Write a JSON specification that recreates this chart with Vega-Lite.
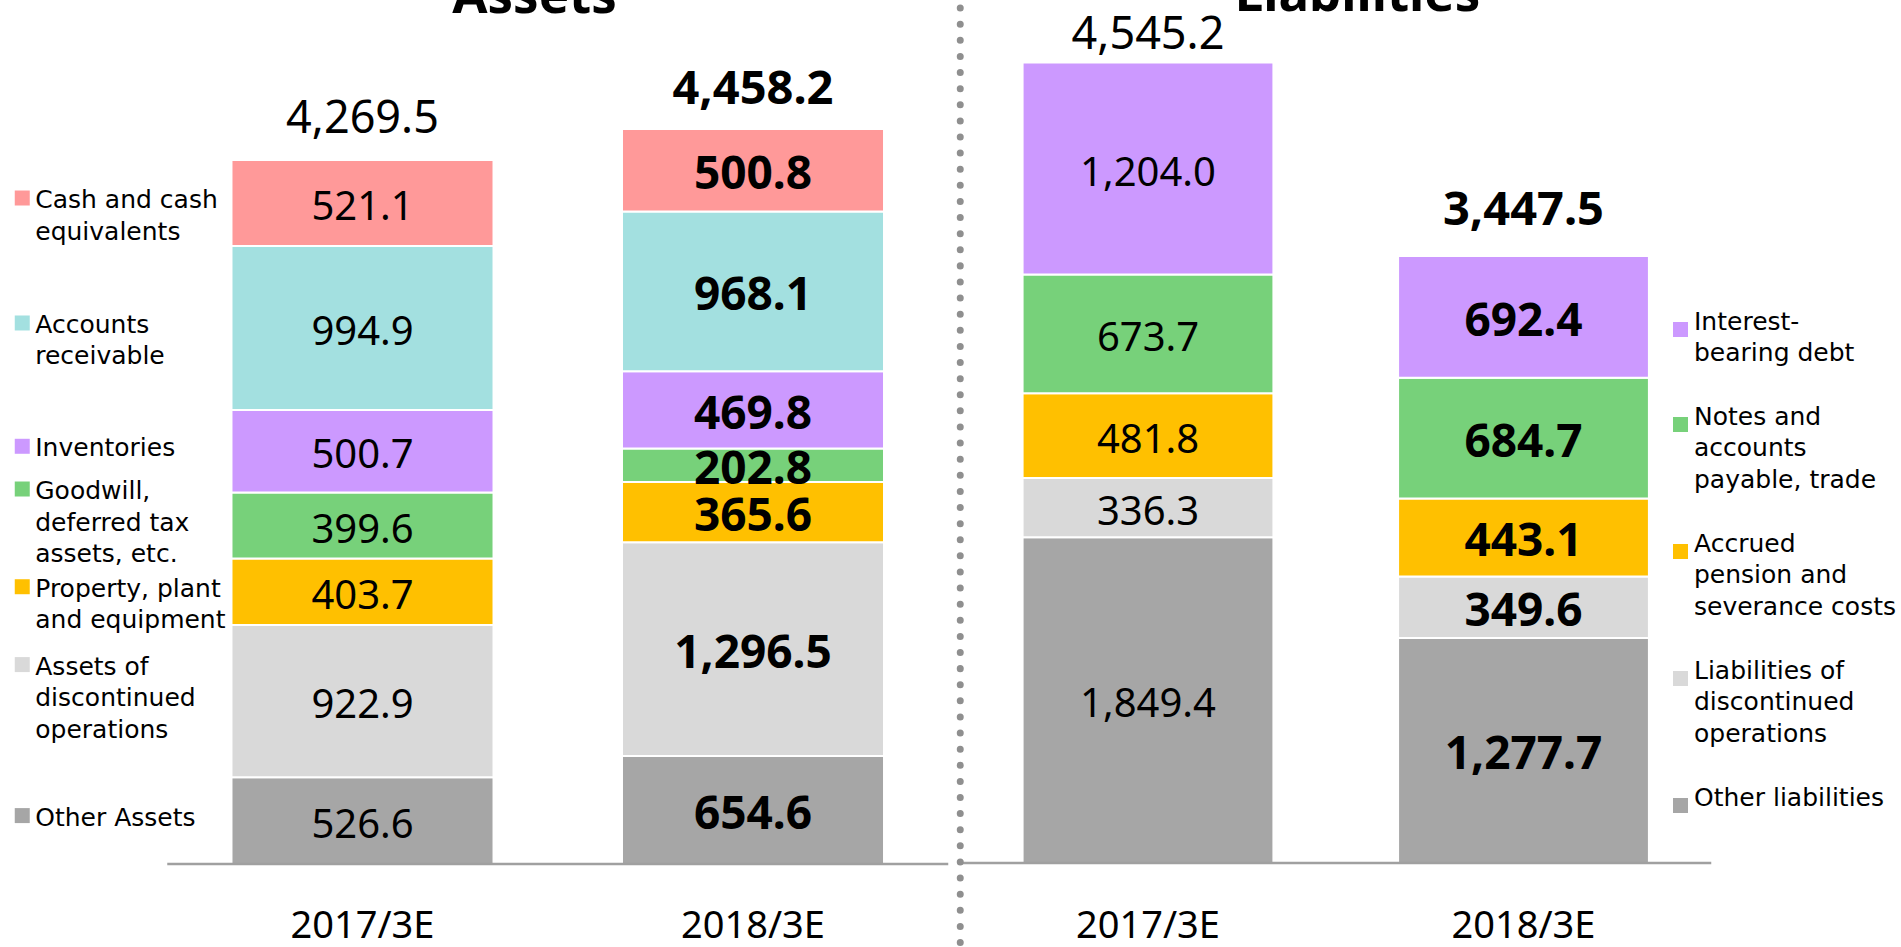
{
  "$schema": "https://vega.github.io/schema/vega-lite/v6.json",
  "width": 1901,
  "height": 947,
  "autosize": {"type": "none"},
  "padding": 0,
  "background": "white",
  "config": {"view": {"stroke": null}, "axis": {"grid": false}, "style": {"guide-label": {"lineHeight": 31.5}}},
  "datasets": {
    "assets": [
      {"year": "2017/3E", "category": "Other Assets", "value": 526.6, "lines": ["Other Assets"]},
      {"year": "2017/3E", "category": "Assets of discontinued operations", "value": 922.9, "lines": ["Assets of", "discontinued", "operations"]},
      {"year": "2017/3E", "category": "Property, plant and equipment", "value": 403.7, "lines": ["Property, plant", "and equipment"]},
      {"year": "2017/3E", "category": "Goodwill, deferred tax assets, etc.", "value": 399.6, "lines": ["Goodwill,", "deferred tax", "assets, etc."]},
      {"year": "2017/3E", "category": "Inventories", "value": 500.7, "lines": ["Inventories"]},
      {"year": "2017/3E", "category": "Accounts receivable", "value": 994.9, "lines": ["Accounts", "receivable"]},
      {"year": "2017/3E", "category": "Cash and cash equivalents", "value": 521.1, "lines": ["Cash and cash", "equivalents"]},
      {"year": "2018/3E", "category": "Other Assets", "value": 654.6, "lines": ["Other Assets"]},
      {"year": "2018/3E", "category": "Assets of discontinued operations", "value": 1296.5, "lines": ["Assets of", "discontinued", "operations"]},
      {"year": "2018/3E", "category": "Property, plant and equipment", "value": 365.6, "lines": ["Property, plant", "and equipment"]},
      {"year": "2018/3E", "category": "Goodwill, deferred tax assets, etc.", "value": 202.8, "lines": ["Goodwill,", "deferred tax", "assets, etc."]},
      {"year": "2018/3E", "category": "Inventories", "value": 469.8, "lines": ["Inventories"]},
      {"year": "2018/3E", "category": "Accounts receivable", "value": 968.1, "lines": ["Accounts", "receivable"]},
      {"year": "2018/3E", "category": "Cash and cash equivalents", "value": 500.8, "lines": ["Cash and cash", "equivalents"]}
    ],
    "liab": [
      {"year": "2017/3E", "category": "Other liabilities", "value": 1849.4},
      {"year": "2017/3E", "category": "Liabilities of discontinued operations", "value": 336.3},
      {"year": "2017/3E", "category": "Accrued pension and severance costs", "value": 481.8},
      {"year": "2017/3E", "category": "Notes and accounts payable, trade", "value": 673.7},
      {"year": "2017/3E", "category": "Interest-bearing debt", "value": 1204.0},
      {"year": "2018/3E", "category": "Other liabilities", "value": 1277.7},
      {"year": "2018/3E", "category": "Liabilities of discontinued operations", "value": 349.6},
      {"year": "2018/3E", "category": "Accrued pension and severance costs", "value": 443.1},
      {"year": "2018/3E", "category": "Notes and accounts payable, trade", "value": 684.7},
      {"year": "2018/3E", "category": "Interest-bearing debt", "value": 692.4}
    ]
  },
  "layer": [
    {
      "layer": [
        {
          "data": {"name": "assets"},
          "transform": [{"window": [{"op": "row_number", "as": "rank"}]}],
          "mark": {"type": "bar", "stroke": "white", "strokeWidth": 2, "width": {"band": 0.671}},
          "encoding": {
            "x": {"field": "year", "type": "nominal", "scale": {"type": "band", "domain": ["2017/3E", "2018/3E"], "range": [167.25, 948.25], "paddingInner": 0, "paddingOuter": 0},
              "axis": {"orient": "bottom", "offset": -83, "domain": false, "ticks": false, "tickSize": 0, "labelPadding": 43, "labelFont": "Noto Sans", "labelFontSize": 38, "labelColor": "#000000", "labelAngle": 0, "grid": false, "title": "Assets", "titleFont": "Noto Sans", "titleFontSize": 51, "titleFontWeight": "bold", "titleColor": "#000000", "titleX": 534, "titleY": -852, "titleBaseline": "alphabetic", "titleAlign": "center", "titleAngle": 0}},
            "y": {"field": "value", "type": "quantitative", "stack": "zero", "scale": {"domain": [-503.4, 5240.2], "nice": false, "zero": false}, "axis": null},
            "color": {"field": "category", "type": "nominal", "legend": null,
              "scale": {"domain": ["Cash and cash equivalents", "Accounts receivable", "Inventories", "Goodwill, deferred tax assets, etc.", "Property, plant and equipment", "Assets of discontinued operations", "Other Assets"],
                "range": ["#FF9999", "#A3E0E0", "#CC99FF", "#77D17A", "#FFC000", "#D9D9D9", "#A6A6A6"]}},
            "order": {"field": "rank", "type": "quantitative"}
          }
        },
        {
          "data": {"name": "assets"},
          "transform": [{"window": [{"op": "row_number", "as": "rank"}]}, {"filter": "datum.year == '2017/3E'"}],
          "mark": {"type": "text", "font": "Noto Sans", "fontSize": 40, "color": "#000000", "baseline": "alphabetic", "dy": 17},
          "encoding": {
            "x": {"field": "year", "type": "nominal", "scale": {"type": "band", "domain": ["2017/3E", "2018/3E"], "range": [167.25, 948.25], "paddingInner": 0, "paddingOuter": 0},
              "axis": {"orient": "bottom", "offset": -83, "domain": false, "ticks": false, "tickSize": 0, "labelPadding": 43, "labelFont": "Noto Sans", "labelFontSize": 38, "labelColor": "#000000", "labelAngle": 0, "grid": false, "title": "Assets", "titleFont": "Noto Sans", "titleFontSize": 51, "titleFontWeight": "bold", "titleColor": "#000000", "titleX": 534, "titleY": -852, "titleBaseline": "alphabetic", "titleAlign": "center", "titleAngle": 0}},
            "y": {"field": "value", "type": "quantitative", "stack": "zero", "bandPosition": 0.5, "scale": {"domain": [-503.4, 5240.2], "nice": false, "zero": false}, "axis": null},
            "detail": {"field": "category"},
            "order": {"field": "rank", "type": "quantitative"},
            "text": {"field": "value", "type": "quantitative", "format": ",.1f"}
          }
        },
        {
          "data": {"name": "assets"},
          "transform": [{"window": [{"op": "row_number", "as": "rank"}]}, {"filter": "datum.year == '2018/3E'"}],
          "mark": {"type": "text", "font": "Noto Sans", "fontSize": 46, "fontWeight": "bold", "color": "#000000", "baseline": "alphabetic", "dy": 19},
          "encoding": {
            "x": {"field": "year", "type": "nominal", "scale": {"type": "band", "domain": ["2017/3E", "2018/3E"], "range": [167.25, 948.25], "paddingInner": 0, "paddingOuter": 0},
              "axis": {"orient": "bottom", "offset": -83, "domain": false, "ticks": false, "tickSize": 0, "labelPadding": 43, "labelFont": "Noto Sans", "labelFontSize": 38, "labelColor": "#000000", "labelAngle": 0, "grid": false, "title": "Assets", "titleFont": "Noto Sans", "titleFontSize": 51, "titleFontWeight": "bold", "titleColor": "#000000", "titleX": 534, "titleY": -852, "titleBaseline": "alphabetic", "titleAlign": "center", "titleAngle": 0}},
            "y": {"field": "value", "type": "quantitative", "stack": "zero", "bandPosition": 0.5, "scale": {"domain": [-503.4, 5240.2], "nice": false, "zero": false}, "axis": null},
            "detail": {"field": "category"},
            "order": {"field": "rank", "type": "quantitative"},
            "text": {"field": "value", "type": "quantitative", "format": ",.1f"}
          }
        },
        {
          "data": {"name": "assets"},
          "transform": [{"filter": "datum.year == '2017/3E'"}],
          "mark": {"type": "text", "font": "Noto Sans", "fontSize": 45, "color": "#000000", "baseline": "alphabetic", "dy": -27},
          "encoding": {
            "x": {"field": "year", "type": "nominal", "scale": {"type": "band", "domain": ["2017/3E", "2018/3E"], "range": [167.25, 948.25], "paddingInner": 0, "paddingOuter": 0},
              "axis": {"orient": "bottom", "offset": -83, "domain": false, "ticks": false, "tickSize": 0, "labelPadding": 43, "labelFont": "Noto Sans", "labelFontSize": 38, "labelColor": "#000000", "labelAngle": 0, "grid": false, "title": "Assets", "titleFont": "Noto Sans", "titleFontSize": 51, "titleFontWeight": "bold", "titleColor": "#000000", "titleX": 534, "titleY": -852, "titleBaseline": "alphabetic", "titleAlign": "center", "titleAngle": 0}},
            "y": {"aggregate": "sum", "field": "value", "type": "quantitative", "scale": {"domain": [-503.4, 5240.2], "nice": false, "zero": false}, "axis": null},
            "text": {"aggregate": "sum", "field": "value", "type": "quantitative", "format": ",.1f"}
          }
        },
        {
          "data": {"name": "assets"},
          "transform": [{"filter": "datum.year == '2018/3E'"}],
          "mark": {"type": "text", "font": "Noto Sans", "fontSize": 47, "fontWeight": "bold", "color": "#000000", "baseline": "alphabetic", "dy": -25},
          "encoding": {
            "x": {"field": "year", "type": "nominal", "scale": {"type": "band", "domain": ["2017/3E", "2018/3E"], "range": [167.25, 948.25], "paddingInner": 0, "paddingOuter": 0},
              "axis": {"orient": "bottom", "offset": -83, "domain": false, "ticks": false, "tickSize": 0, "labelPadding": 43, "labelFont": "Noto Sans", "labelFontSize": 38, "labelColor": "#000000", "labelAngle": 0, "grid": false, "title": "Assets", "titleFont": "Noto Sans", "titleFontSize": 51, "titleFontWeight": "bold", "titleColor": "#000000", "titleX": 534, "titleY": -852, "titleBaseline": "alphabetic", "titleAlign": "center", "titleAngle": 0}},
            "y": {"aggregate": "sum", "field": "value", "type": "quantitative", "scale": {"domain": [-503.4, 5240.2], "nice": false, "zero": false}, "axis": null},
            "text": {"aggregate": "sum", "field": "value", "type": "quantitative", "format": ",.1f"}
          }
        },
        {
          "data": {"values": [{}]},
          "mark": {"type": "rule", "color": "#A0A0A0", "strokeWidth": 2.5},
          "encoding": {
            "x": {"datum": "2017/3E", "bandPosition": 0, "scale": {"type": "band", "domain": ["2017/3E", "2018/3E"], "range": [167.25, 948.25], "paddingInner": 0, "paddingOuter": 0},
              "axis": {"orient": "bottom", "offset": -83, "domain": false, "ticks": false, "tickSize": 0, "labelPadding": 43, "labelFont": "Noto Sans", "labelFontSize": 38, "labelColor": "#000000", "labelAngle": 0, "grid": false, "title": "Assets", "titleFont": "Noto Sans", "titleFontSize": 51, "titleFontWeight": "bold", "titleColor": "#000000", "titleX": 534, "titleY": -852, "titleBaseline": "alphabetic", "titleAlign": "center", "titleAngle": 0}},
            "x2": {"datum": "2018/3E", "bandPosition": 1},
            "y": {"datum": 0, "type": "quantitative", "scale": {"domain": [-503.4, 5240.2], "nice": false, "zero": false}, "axis": null}
          }
        },
        {
          "data": {"name": "assets"},
          "transform": [{"window": [{"op": "row_number", "as": "rank"}]}, {"filter": "datum.year == '2017/3E'"}],
          "mark": {"type": "square", "size": 225, "filled": true, "opacity": 1, "xOffset": -145, "yOffset": {"expr": "-5 - 31.5 * floor((length(datum.lines) - 1) / 2)"}},
          "encoding": {
            "x": {"field": "year", "type": "nominal", "bandPosition": 0, "scale": {"type": "band", "domain": ["2017/3E", "2018/3E"], "range": [167.25, 948.25], "paddingInner": 0, "paddingOuter": 0},
              "axis": {"orient": "bottom", "offset": -83, "domain": false, "ticks": false, "tickSize": 0, "labelPadding": 43, "labelFont": "Noto Sans", "labelFontSize": 38, "labelColor": "#000000", "labelAngle": 0, "grid": false, "title": "Assets", "titleFont": "Noto Sans", "titleFontSize": 51, "titleFontWeight": "bold", "titleColor": "#000000", "titleX": 534, "titleY": -852, "titleBaseline": "alphabetic", "titleAlign": "center", "titleAngle": 0}},
            "y": {"field": "value", "type": "quantitative", "stack": "zero", "bandPosition": 0.5, "scale": {"domain": [-503.4, 5240.2], "nice": false, "zero": false}, "axis": null},
            "color": {"field": "category", "type": "nominal", "legend": null,
              "scale": {"domain": ["Cash and cash equivalents", "Accounts receivable", "Inventories", "Goodwill, deferred tax assets, etc.", "Property, plant and equipment", "Assets of discontinued operations", "Other Assets"],
                "range": ["#FF9999", "#A3E0E0", "#CC99FF", "#77D17A", "#FFC000", "#D9D9D9", "#A6A6A6"]}},
            "order": {"field": "rank", "type": "quantitative"}
          }
        },
        {
          "data": {"name": "assets"},
          "transform": [{"window": [{"op": "row_number", "as": "rank"}]}, {"filter": "datum.year == '2017/3E'"}],
          "mark": {"type": "text", "font": "DejaVu Sans", "fontSize": 25, "lineHeight": 31.5, "color": "#000000", "align": "left", "baseline": "middle", "dx": -132, "dy": {"expr": "-3 - 31.5 * floor((length(datum.lines) - 1) / 2)"}},
          "encoding": {
            "x": {"field": "year", "type": "nominal", "bandPosition": 0, "scale": {"type": "band", "domain": ["2017/3E", "2018/3E"], "range": [167.25, 948.25], "paddingInner": 0, "paddingOuter": 0},
              "axis": {"orient": "bottom", "offset": -83, "domain": false, "ticks": false, "tickSize": 0, "labelPadding": 43, "labelFont": "Noto Sans", "labelFontSize": 38, "labelColor": "#000000", "labelAngle": 0, "grid": false, "title": "Assets", "titleFont": "Noto Sans", "titleFontSize": 51, "titleFontWeight": "bold", "titleColor": "#000000", "titleX": 534, "titleY": -852, "titleBaseline": "alphabetic", "titleAlign": "center", "titleAngle": 0}},
            "y": {"field": "value", "type": "quantitative", "stack": "zero", "bandPosition": 0.5, "scale": {"domain": [-503.4, 5240.2], "nice": false, "zero": false}, "axis": null},
            "detail": {"field": "category"},
            "order": {"field": "rank", "type": "quantitative"},
            "text": {"field": "lines"}
          }
        }
      ]
    },
    {
      "layer": [
        {
          "data": {"name": "liab"},
          "transform": [{"window": [{"op": "row_number", "as": "rank"}]}],
          "mark": {"type": "bar", "stroke": "white", "strokeWidth": 2, "width": {"band": 0.668}},
          "encoding": {
            "x": {"field": "year", "type": "nominal", "scale": {"type": "band", "domain": ["2017/3E", "2018/3E"], "range": [960.25, 1711.25], "paddingInner": 0, "paddingOuter": 0},
              "axis": {"orient": "bottom", "offset": -83, "domain": false, "ticks": false, "tickSize": 0, "labelPadding": 43, "labelFont": "Noto Sans", "labelFontSize": 38, "labelColor": "#000000", "labelAngle": 0, "grid": false, "title": "Liabilities", "titleFont": "Noto Sans", "titleFontSize": 51, "titleFontWeight": "bold", "titleColor": "#000000", "titleX": 1357, "titleY": -854, "titleBaseline": "alphabetic", "titleAlign": "center", "titleAngle": 0}},
            "y": {"field": "value", "type": "quantitative", "stack": "zero", "scale": {"domain": [-477, 4900.6], "nice": false, "zero": false}, "axis": null},
            "color": {"field": "category", "type": "nominal",
              "scale": {"domain": ["Interest-bearing debt", "Notes and accounts payable, trade", "Accrued pension and severance costs", "Liabilities of discontinued operations", "Other liabilities"],
                "range": ["#CC99FF", "#77D17A", "#FFC000", "#D9D9D9", "#A6A6A6"]},
              "legend": {"orient": "none", "legendX": 1668, "legendY": 317, "direction": "vertical", "title": null, "padding": 0,
                "symbolType": "square", "symbolSize": 225, "symbolStrokeWidth": 0, "symbolOpacity": 1,
                "labelFont": "DejaVu Sans", "labelFontSize": 25, "labelColor": "#000000", "labelLimit": 400, "labelOffset": 1, "labelBaseline": "alphabetic",
                "rowPadding": 38,
                "labelExpr": "datum.label == 'Interest-bearing debt' ? ['Interest-', 'bearing debt'] : datum.label == 'Notes and accounts payable, trade' ? ['Notes and', 'accounts', 'payable, trade'] : datum.label == 'Accrued pension and severance costs' ? ['Accrued', 'pension and', 'severance costs'] : datum.label == 'Liabilities of discontinued operations' ? ['Liabilities of', '\u00a0discontinued', '\u00a0operations'] : datum.label",
                "encode": {"labels": {"update": {"dy": {"value": 9}, "lineHeight": {"value": 31.5}}}}}},
            "order": {"field": "rank", "type": "quantitative"}
          }
        },
        {
          "data": {"name": "liab"},
          "transform": [{"window": [{"op": "row_number", "as": "rank"}]}, {"filter": "datum.year == '2017/3E'"}],
          "mark": {"type": "text", "font": "Noto Sans", "fontSize": 40, "color": "#000000", "baseline": "alphabetic", "dy": 17},
          "encoding": {
            "x": {"field": "year", "type": "nominal", "scale": {"type": "band", "domain": ["2017/3E", "2018/3E"], "range": [960.25, 1711.25], "paddingInner": 0, "paddingOuter": 0},
              "axis": {"orient": "bottom", "offset": -83, "domain": false, "ticks": false, "tickSize": 0, "labelPadding": 43, "labelFont": "Noto Sans", "labelFontSize": 38, "labelColor": "#000000", "labelAngle": 0, "grid": false, "title": "Liabilities", "titleFont": "Noto Sans", "titleFontSize": 51, "titleFontWeight": "bold", "titleColor": "#000000", "titleX": 1357, "titleY": -854, "titleBaseline": "alphabetic", "titleAlign": "center", "titleAngle": 0}},
            "y": {"field": "value", "type": "quantitative", "stack": "zero", "bandPosition": 0.5, "scale": {"domain": [-477, 4900.6], "nice": false, "zero": false}, "axis": null},
            "detail": {"field": "category"},
            "order": {"field": "rank", "type": "quantitative"},
            "text": {"field": "value", "type": "quantitative", "format": ",.1f"}
          }
        },
        {
          "data": {"name": "liab"},
          "transform": [{"window": [{"op": "row_number", "as": "rank"}]}, {"filter": "datum.year == '2018/3E'"}],
          "mark": {"type": "text", "font": "Noto Sans", "fontSize": 46, "fontWeight": "bold", "color": "#000000", "baseline": "alphabetic", "dy": 19},
          "encoding": {
            "x": {"field": "year", "type": "nominal", "scale": {"type": "band", "domain": ["2017/3E", "2018/3E"], "range": [960.25, 1711.25], "paddingInner": 0, "paddingOuter": 0},
              "axis": {"orient": "bottom", "offset": -83, "domain": false, "ticks": false, "tickSize": 0, "labelPadding": 43, "labelFont": "Noto Sans", "labelFontSize": 38, "labelColor": "#000000", "labelAngle": 0, "grid": false, "title": "Liabilities", "titleFont": "Noto Sans", "titleFontSize": 51, "titleFontWeight": "bold", "titleColor": "#000000", "titleX": 1357, "titleY": -854, "titleBaseline": "alphabetic", "titleAlign": "center", "titleAngle": 0}},
            "y": {"field": "value", "type": "quantitative", "stack": "zero", "bandPosition": 0.5, "scale": {"domain": [-477, 4900.6], "nice": false, "zero": false}, "axis": null},
            "detail": {"field": "category"},
            "order": {"field": "rank", "type": "quantitative"},
            "text": {"field": "value", "type": "quantitative", "format": ",.1f"}
          }
        },
        {
          "data": {"name": "liab"},
          "transform": [{"filter": "datum.year == '2017/3E'"}],
          "mark": {"type": "text", "font": "Noto Sans", "fontSize": 45, "color": "#000000", "baseline": "alphabetic", "dy": -14},
          "encoding": {
            "x": {"field": "year", "type": "nominal", "scale": {"type": "band", "domain": ["2017/3E", "2018/3E"], "range": [960.25, 1711.25], "paddingInner": 0, "paddingOuter": 0},
              "axis": {"orient": "bottom", "offset": -83, "domain": false, "ticks": false, "tickSize": 0, "labelPadding": 43, "labelFont": "Noto Sans", "labelFontSize": 38, "labelColor": "#000000", "labelAngle": 0, "grid": false, "title": "Liabilities", "titleFont": "Noto Sans", "titleFontSize": 51, "titleFontWeight": "bold", "titleColor": "#000000", "titleX": 1357, "titleY": -854, "titleBaseline": "alphabetic", "titleAlign": "center", "titleAngle": 0}},
            "y": {"aggregate": "sum", "field": "value", "type": "quantitative", "scale": {"domain": [-477, 4900.6], "nice": false, "zero": false}, "axis": null},
            "text": {"aggregate": "sum", "field": "value", "type": "quantitative", "format": ",.1f"}
          }
        },
        {
          "data": {"name": "liab"},
          "transform": [{"filter": "datum.year == '2018/3E'"}],
          "mark": {"type": "text", "font": "Noto Sans", "fontSize": 47, "fontWeight": "bold", "color": "#000000", "baseline": "alphabetic", "dy": -31},
          "encoding": {
            "x": {"field": "year", "type": "nominal", "scale": {"type": "band", "domain": ["2017/3E", "2018/3E"], "range": [960.25, 1711.25], "paddingInner": 0, "paddingOuter": 0},
              "axis": {"orient": "bottom", "offset": -83, "domain": false, "ticks": false, "tickSize": 0, "labelPadding": 43, "labelFont": "Noto Sans", "labelFontSize": 38, "labelColor": "#000000", "labelAngle": 0, "grid": false, "title": "Liabilities", "titleFont": "Noto Sans", "titleFontSize": 51, "titleFontWeight": "bold", "titleColor": "#000000", "titleX": 1357, "titleY": -854, "titleBaseline": "alphabetic", "titleAlign": "center", "titleAngle": 0}},
            "y": {"aggregate": "sum", "field": "value", "type": "quantitative", "scale": {"domain": [-477, 4900.6], "nice": false, "zero": false}, "axis": null},
            "text": {"aggregate": "sum", "field": "value", "type": "quantitative", "format": ",.1f"}
          }
        },
        {
          "data": {"values": [{}]},
          "mark": {"type": "rule", "color": "#A0A0A0", "strokeWidth": 2.5},
          "encoding": {
            "x": {"datum": "2017/3E", "bandPosition": 0, "scale": {"type": "band", "domain": ["2017/3E", "2018/3E"], "range": [960.25, 1711.25], "paddingInner": 0, "paddingOuter": 0},
              "axis": {"orient": "bottom", "offset": -83, "domain": false, "ticks": false, "tickSize": 0, "labelPadding": 43, "labelFont": "Noto Sans", "labelFontSize": 38, "labelColor": "#000000", "labelAngle": 0, "grid": false, "title": "Liabilities", "titleFont": "Noto Sans", "titleFontSize": 51, "titleFontWeight": "bold", "titleColor": "#000000", "titleX": 1357, "titleY": -854, "titleBaseline": "alphabetic", "titleAlign": "center", "titleAngle": 0}},
            "x2": {"datum": "2018/3E", "bandPosition": 1},
            "y": {"datum": 0, "type": "quantitative", "scale": {"domain": [-477, 4900.6], "nice": false, "zero": false}, "axis": null}
          }
        },
        {
          "data": {"values": [{}]},
          "mark": {"type": "rule", "color": "#8F8F8F", "strokeWidth": 7, "strokeCap": "round", "strokeDash": [0.01, 16.1], "strokeDashOffset": 8},
          "encoding": {
            "x": {"datum": "2017/3E", "bandPosition": 0, "scale": {"type": "band", "domain": ["2017/3E", "2018/3E"], "range": [960.25, 1711.25], "paddingInner": 0, "paddingOuter": 0},
              "axis": {"orient": "bottom", "offset": -83, "domain": false, "ticks": false, "tickSize": 0, "labelPadding": 43, "labelFont": "Noto Sans", "labelFontSize": 38, "labelColor": "#000000", "labelAngle": 0, "grid": false, "title": "Liabilities", "titleFont": "Noto Sans", "titleFontSize": 51, "titleFontWeight": "bold", "titleColor": "#000000", "titleX": 1357, "titleY": -854, "titleBaseline": "alphabetic", "titleAlign": "center", "titleAngle": 0}}
          }
        }
      ]
    }
  ],
  "resolve": {"scale": {"x": "independent", "y": "independent", "color": "independent"}, "axis": {"x": "independent", "y": "independent"}, "legend": {"color": "independent"}}
}
